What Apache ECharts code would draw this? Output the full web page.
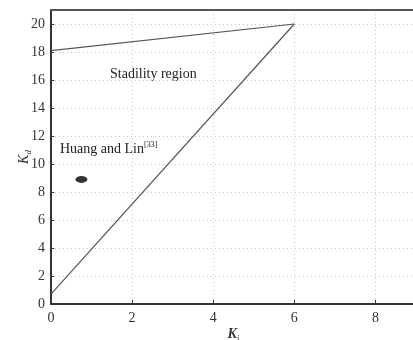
<!DOCTYPE html>
<html><head><meta charset="utf-8">
<script src="https://cdn.jsdelivr.net/npm/echarts@6/dist/echarts.min.js"></script>
<style>html,body{margin:0;padding:0;background:#fff}#c{width:413px;height:340px}</style>
</head><body><div id="c"></div>
<script>
// Boundary of the stability region (Ki, Kd)
const lowerBoundary = [[0, 0.7], [6, 20]];
const upperBoundary = [[0, 18.1], [6, 20]];
// Huang and Lin [33] operating point
const huangLinPoint = [[0.75, 8.9]];
const xTicks = [0, 2, 4, 6, 8];
const yTicks = [0, 2, 4, 6, 8, 10, 12, 14, 16, 18, 20];

const serif = '"Liberation Serif", "DejaVu Serif", serif';
const chart = echarts.init(document.getElementById('c'));
chart.setOption({
  animation: false,
  backgroundColor: '#fff',
  grid: { left: 51, right: -3, top: 10, bottom: 36, outerBoundsMode: 'none', containLabel: false },
  xAxis: [{
    type: 'value', min: 0, max: 9, interval: 2,
    name: '{k|K}{s|i}', nameLocation: 'middle', nameGap: 22, nameMoveOverlap: false,
    nameTextStyle: { rich: { k: { fontFamily: serif, fontStyle: 'italic', fontWeight: 'bold', fontSize: 14, color: '#333' }, s: { fontFamily: serif, fontStyle: 'italic', fontSize: 9, color: '#333', padding: [8, 0, 0, 0] } } },
    axisLine: { lineStyle: { color: '#333', width: 2 } },
    axisTick: { inside: true, length: 4, lineStyle: { color: '#333' } },
    axisLabel: { fontFamily: serif, fontSize: 14, color: '#333', margin: 7, showMaxLabel: false,
      formatter: v => xTicks.includes(v) ? String(v) : '' },
    splitLine: { show: true, lineStyle: { color: '#c4c4c4', type: [1, 3], width: 1 } }
  }, {
    type: 'value', position: 'top', min: 0, max: 9,
    axisLine: { show: true, lineStyle: { color: '#555', width: 2 } },
    axisTick: { show: false }, axisLabel: { show: false }, splitLine: { show: false }
  }],
  yAxis: {
    type: 'value', min: 0, max: 21, interval: 2,
    name: '{k|K}{s|d}', nameLocation: 'middle', nameGap: 18, nameRotate: 90, nameMoveOverlap: false,
    nameTextStyle: { rich: { k: { fontFamily: serif, fontStyle: 'italic', fontSize: 14, color: '#333' }, s: { fontFamily: serif, fontStyle: 'italic', fontSize: 9, color: '#333', padding: [8, 0, 0, 0] } } },
    axisLine: { lineStyle: { color: '#333', width: 2 } },
    axisTick: { inside: true, length: 3, lineStyle: { color: '#333' } },
    axisLabel: { fontFamily: serif, fontSize: 14, color: '#333', margin: 6, showMaxLabel: false,
      formatter: v => yTicks.includes(v) ? String(v) : '' },
    splitLine: { show: true, lineStyle: { color: '#c4c4c4', type: [1, 3], width: 1 } }
  },
  series: [
    { type: 'line', data: lowerBoundary, symbol: 'none', lineStyle: { color: '#555', width: 1.2 } },
    { type: 'line', data: upperBoundary, symbol: 'none', lineStyle: { color: '#555', width: 1.2 } },
    { type: 'scatter', data: huangLinPoint, symbol: 'circle', symbolSize: [12, 7], itemStyle: { color: '#000' } }
  ],
  graphic: [
    { type: 'text', left: 110, top: 67, style: { text: 'Stadility region', font: '14px ' + serif, fill: '#222' } },
    { type: 'text', left: 60, top: 141, style: { text: '{t|Huang and Lin}{s|[33]}', fill: '#222',
      rich: { t: { fontFamily: serif, fontSize: 14, fill: '#222' }, s: { fontFamily: serif, fontSize: 8, fill: '#222', padding: [0, 0, 8, 0] } } } }
  ]
});
</script></body></html>
